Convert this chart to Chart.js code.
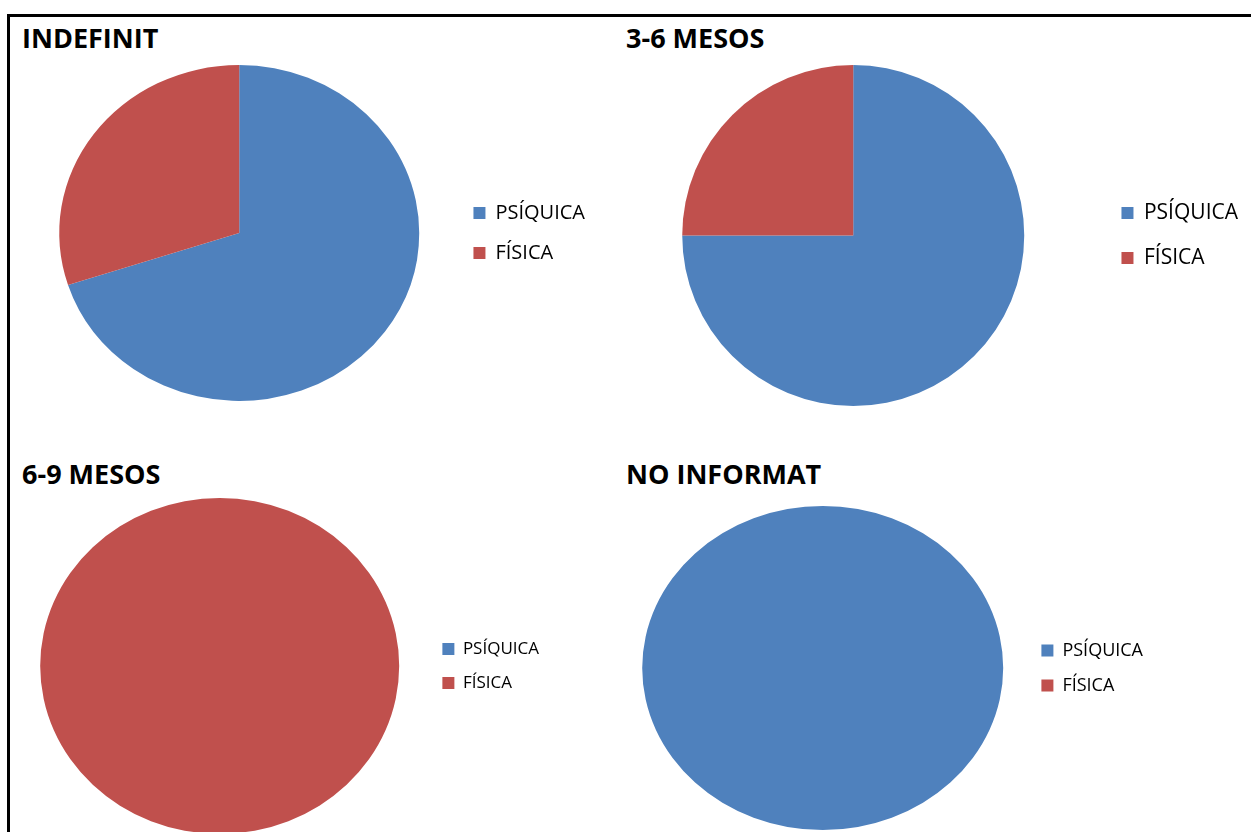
<!DOCTYPE html>
<html>
<head>
<meta charset="utf-8">
<title>Pies</title>
<script src="https://cdn.jsdelivr.net/npm/chart.js@4.4.1/dist/chart.umd.min.js"></script>
<style>
  html, body { margin: 0; padding: 0; background: #fff; overflow: hidden; }
  body { width: 1251px; height: 832px; position: relative; font-family: 'Open Sans', sans-serif; }
  .frame { position: absolute; left: 7px; top: 14px; width: 1300px; height: 900px;
           border-top: 3px solid #000; border-left: 3px solid #000; }
  .title { position: absolute; font-weight: bold; font-size: 27px; line-height: 1; color: #000; white-space: nowrap; }
  canvas { position: absolute; }
</style>
</head>
<body>
<div class="frame"></div>
<script>
// data
const categories = ['PSÍQUICA', 'FÍSICA'];
const colors = ['#4F81BD', '#C0504D'];
const titles = ['INDEFINIT', '3-6 MESOS', '6-9 MESOS', 'NO INFORMAT'];
const indefinit = [7, 3];
const mesos36 = [3, 1];
const mesos69 = [0, 1];
const noInformat = [1, 0];

const FONT = "'Open Sans', sans-serif";
const BOX = 12;

// layout of each panel (pie centre, radii, legend box x, legend font)
const panels = [
  { title: titles[0], values: indefinit,  tx: 22,  ty: 24,  cx: 239,   cy: 233,   rx: 180,   ry: 168,   boxX: 473,  font: 20, gap: 20 },
  { title: titles[1], values: mesos36,    tx: 626, ty: 24,  cx: 853,   cy: 235.5, rx: 171,   ry: 170.5, boxX: 1121, font: 21, gap: 24 },
  { title: titles[2], values: mesos69,    tx: 22,  ty: 460, cx: 219.5, cy: 666,   rx: 179.5, ry: 168,   boxX: 442,  font: 17, gap: 17 },
  { title: titles[3], values: noInformat, tx: 626, ty: 460, cx: 822.5, cy: 668,   rx: 180.5, ry: 162,   boxX: 1041, font: 18, gap: 17 }
];

Chart.defaults.font.family = FONT;

// stretches the pie horizontally, the original is slightly oval
const stretch = {
  id: 'stretch',
  beforeDatasetsDraw(chart, args, opts) {
    const arc = chart.getDatasetMeta(0).data[0];
    const ctx = chart.ctx;
    ctx.save();
    ctx.translate(arc.x, arc.y);
    ctx.scale(opts.x || 1, 1);
    ctx.translate(-arc.x, -arc.y);
  },
  afterDatasetsDraw(chart) {
    chart.ctx.restore();
  }
};

function legendWidth(p) {
  const m = document.createElement('canvas').getContext('2d');
  m.font = p.font + 'px ' + FONT;
  const w = Math.max(...categories.map(t => m.measureText(t).width));
  return p.gap + BOX + p.font / 2 + w + 10;
}

panels.forEach(p => {
  const t = document.createElement('div');
  t.className = 'title';
  t.textContent = p.title;
  t.style.left = p.tx + 'px';
  t.style.top = p.ty + 'px';
  document.body.appendChild(t);

  const half = p.boxX - p.gap - p.cx;
  const canvas = document.createElement('canvas');
  const w = Math.ceil(2 * half + legendWidth(p));
  const h = Math.round(2 * p.ry);
  canvas.width = w;
  canvas.height = h;
  canvas.style.width = w + 'px';
  canvas.style.height = h + 'px';
  canvas.style.left = (p.cx - half) + 'px';
  canvas.style.top = (p.cy - p.ry) + 'px';
  document.body.appendChild(canvas);

  new Chart(canvas.getContext('2d'), {
    type: 'pie',
    data: {
      labels: categories,
      datasets: [{
        data: p.values,
        backgroundColor: colors,
        borderWidth: 0,
        clip: false
      }]
    },
    options: {
      responsive: false,
      maintainAspectRatio: false,
      animation: false,
      layout: { padding: 0 },
      plugins: {
        stretch: { x: p.rx / p.ry },
        tooltip: { enabled: false },
        legend: {
          position: 'right',
          labels: {
            boxWidth: BOX,
            boxHeight: BOX,
            padding: p.gap,
            color: '#000',
            font: { size: p.font, family: FONT }
          }
        }
      }
    },
    plugins: [stretch]
  });
});
</script>
</body>
</html>
